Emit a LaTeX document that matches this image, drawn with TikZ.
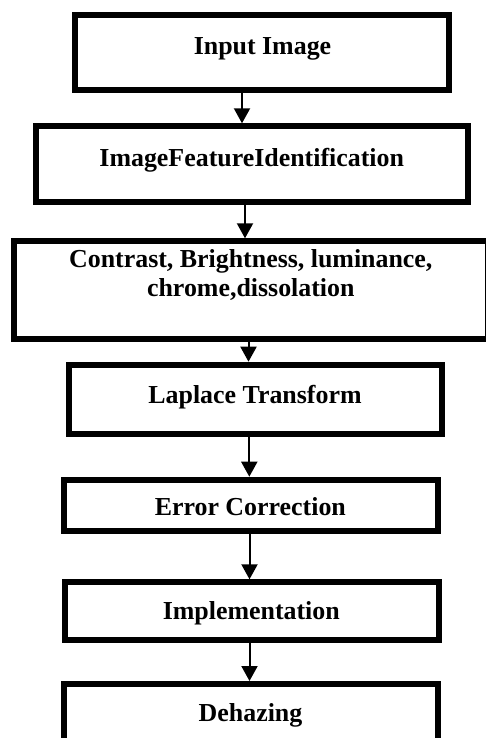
\documentclass[tikz,border=0pt]{standalone}
\usepackage{fontspec}
\setmainfont{Liberation Serif}
\usetikzlibrary{arrows.meta}
\begin{document}
\begin{tikzpicture}[x=0.5pt,y=-0.5pt,
  box/.style={draw=black, line width=3pt, fill=white, rectangle, inner sep=0pt},
  lbl/.style={font=\bfseries\fontsize{12.95}{14.8}\selectfont, anchor=base, inner sep=0pt},
  arr/.style={line width=1pt, -{Triangle[width=8pt,length=7.5pt]}}]
\useasboundingbox (0,0) rectangle (486,738);
\fill[white] (0,0) rectangle (486,738);
% boxes
\node[box, minimum width=186.85pt, minimum height=37.35pt] (b1) at (261.85,52.65) {};
\node[box, minimum width=215.7pt, minimum height=37.85pt] (b2) at (252,164.15) {};
\node[box, minimum width=237.15pt, minimum height=48.85pt] (b3) at (250.85,290.15) {};
\node[box, minimum width=186.5pt, minimum height=34.5pt] (b4) at (255.2,399.2) {};
\node[box, minimum width=186.85pt, minimum height=25.8pt] (b5) at (250.85,505.5) {};
\node[box, minimum width=186.7pt, minimum height=29pt] (b6) at (252,611.3) {};
\node[box, minimum width=186.85pt, minimum height=29.5pt] (b7) at (250.85,713.5) {};
% texts
\node[lbl] (t1) at (262.5,55) {Input Image};
\node[lbl] (t2) at (251.7,166) {ImageFeatureIdentification};
\node[lbl] (t3) at (250.8,267) {Contrast, Brightness, luminance,};
\node[lbl] (t3b) at (250.8,296.5) {chrome,dissolation};
\node[lbl] (t4) at (255,403) {Laplace Transform};
\node[lbl] (t5) at (250.3,515.5) {Error Correction};
\node[lbl] (t6) at (251.3,619.5) {Implementation};
\node[lbl] (t7) at (250.5,721.7) {Dehazing};
% arrow columns
\coordinate (x1) at (242,0);
\coordinate (x2) at (245,0);
\coordinate (x3) at (248.5,0);
\coordinate (x4) at (249.3,0);
\coordinate (x5) at (249.5,0);
\coordinate (x6) at (249.5,0);
\draw[arr] (b1.south -| x1) -- (b2.north -| x1);
\draw[arr] (b2.south -| x2) -- (b3.north -| x2);
\draw[arr] (b3.south -| x3) -- (b4.north -| x3);
\draw[arr] (b4.south -| x4) -- (b5.north -| x4);
\draw[arr] (b5.south -| x5) -- (b6.north -| x5);
\draw[arr] (b6.south -| x6) -- (b7.north -| x6);
\end{tikzpicture}
\end{document}
